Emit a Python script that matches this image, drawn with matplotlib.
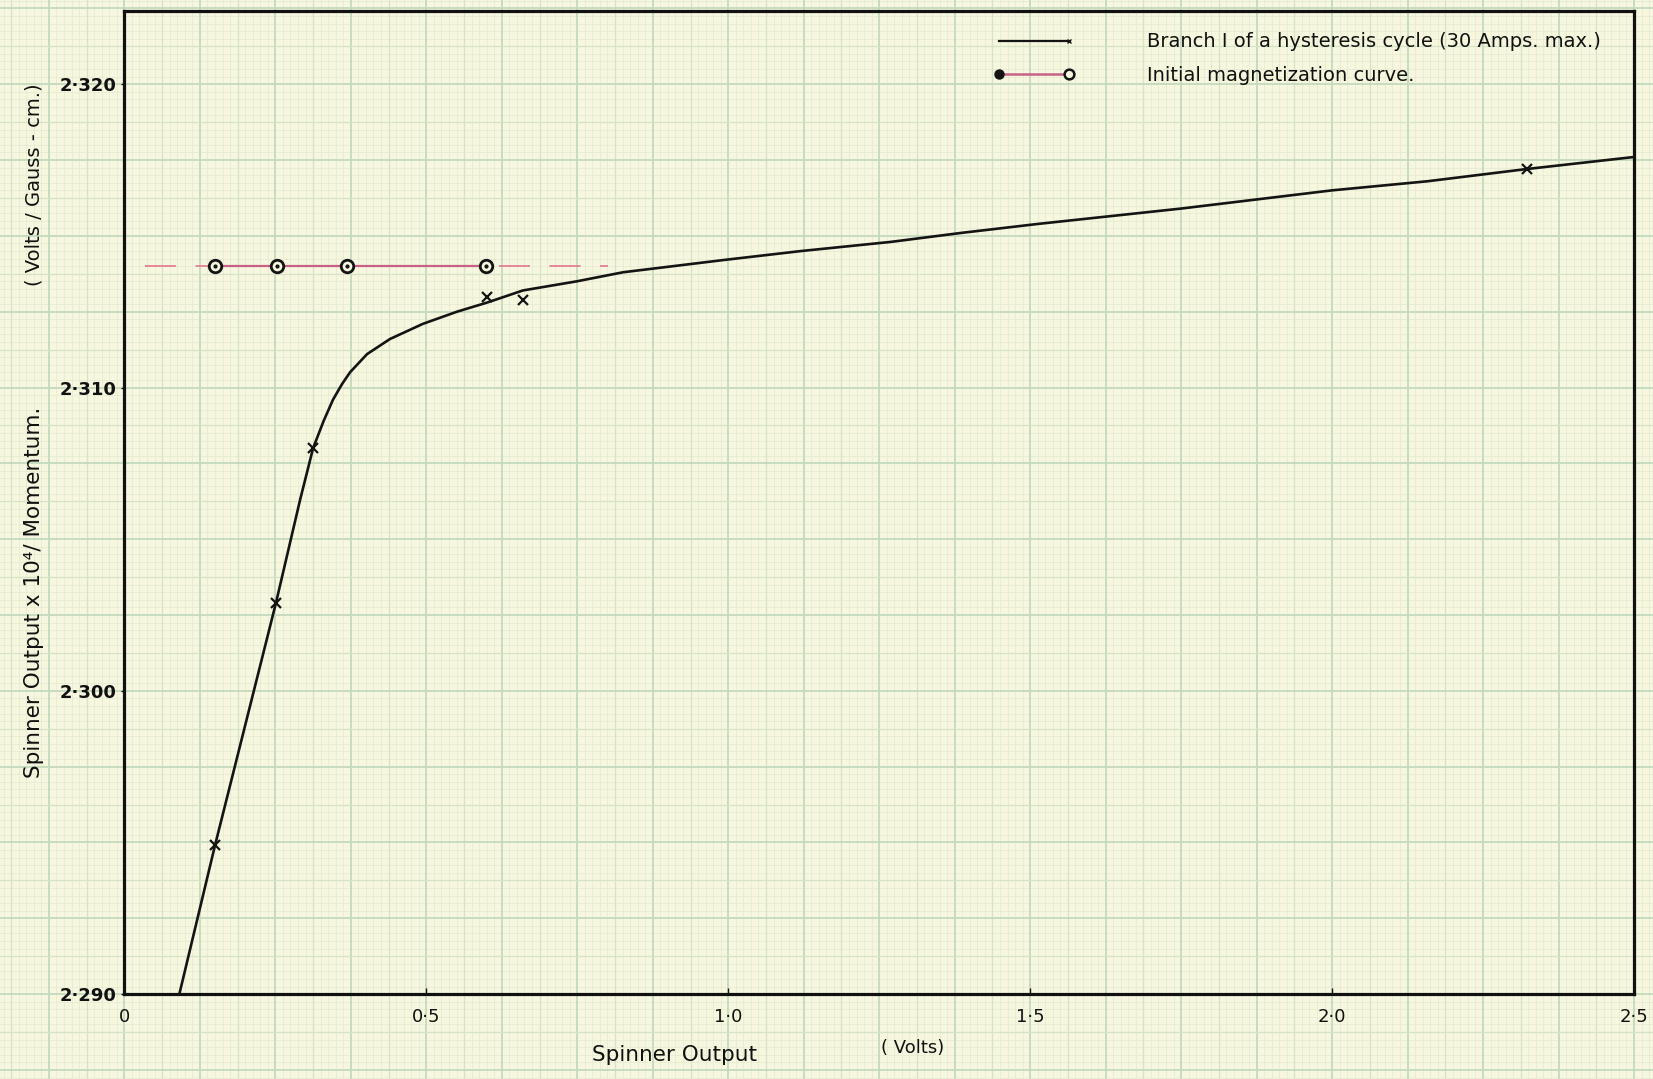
import numpy as np
import matplotlib
matplotlib.use("Agg")
import matplotlib.pyplot as plt
from matplotlib.lines import Line2D
from matplotlib.legend_handler import HandlerBase

plt.rcParams['font.family'] = ['DejaVu Sans']

# ---------------- data ----------------
# Branch I of a hysteresis cycle: drawn curve
curve_x = [0.091, 0.150, 0.251, 0.291, 0.3125, 0.330, 0.3455, 0.3600, 0.3736, 0.4018,
           0.4399, 0.4945, 0.5509, 0.6006, 0.660, 0.749, 0.826, 0.991, 1.121, 1.269,
           1.387, 1.516, 1.750, 2.000, 2.158, 2.321, 2.500]
curve_y = [2.2900, 2.2949, 2.3029, 2.3063, 2.3080, 2.3089, 2.3096, 2.3101, 2.3105, 2.3111,
           2.3116, 2.3121, 2.3125, 2.3128, 2.3132, 2.3135, 2.3138, 2.3142, 2.3145, 2.3148,
           2.3151, 2.3154, 2.3159, 2.3165, 2.3168, 2.3172, 2.3176]
# measured points (crosses)
branch_x = [0.150, 0.251, 0.3125, 0.600, 0.660, 2.322]
branch_y = [2.2949, 2.3029, 2.3080, 2.3130, 2.3129, 2.3172]
# Initial magnetization curve (circles)
init_x = [0.150, 0.252, 0.368, 0.599]
init_y = [2.314, 2.314, 2.314, 2.314]
init_dash_x = [0.034, 0.801]
init_dash_y = [2.314, 2.314]

x_ticks = [0, 0.5, 1.0, 1.5, 2.0, 2.5]
x_ticklabels = ["0", "0·5", "1·0", "1·5", "2·0", "2·5"]
y_ticks = [2.290, 2.300, 2.310, 2.320]
y_ticklabels = ["2·290", "2·300", "2·310", "2·320"]

xlim = (0, 2.5)
ylim = (2.290, 2.32243)

legend_labels = ["Branch I of a hysteresis cycle (30 Amps. max.)",
                 "Initial magnetization curve."]
xlabel_main = "Spinner Output"
xlabel_unit = "( Volts)"
ylabel_main = "Spinner Output x 10⁴/ Momentum."
ylabel_unit = "( Volts / Gauss - cm.)"

# ---------------- style ----------------
W, H = 1653, 1079
paper = "#f6f7de"
pink_solid = "#c9608a"
pink_dash = "#e3879a"
ink = "#141414"

fig = plt.figure(figsize=(W / 100, H / 100), dpi=100, facecolor=paper)

ax_left, ax_right = 124.4 / W, 1634 / W
ax_bottom, ax_top = (H - 994.1) / H, (H - 10.5) / H
ax_w, ax_h = ax_right - ax_left, ax_top - ax_bottom

# graph-paper background continuing the data grid over the whole figure
bg = fig.add_axes([0, 0, 1, 1], zorder=-5)
bg.set_facecolor(paper)
sx = (xlim[1] - xlim[0]) / ax_w
sy = (ylim[1] - ylim[0]) / ax_h
bx0 = xlim[0] - ax_left * sx
bx1 = bx0 + sx
by0 = ylim[0] - ax_bottom * sy
by1 = by0 + sy
bg.set_xlim(bx0, bx1)
bg.set_ylim(by0, by1)
bg.axis("off")
dx, dy = 0.0125, 0.00025
kx = np.arange(int(np.floor(bx0 / dx)) - 1, int(np.ceil(bx1 / dx)) + 2)
ky = np.arange(int(np.floor((by0 - ylim[0]) / dy)) - 1, int(np.ceil((by1 - ylim[0]) / dy)) + 2)


def grid_style(k):
    if k % 10 == 0:
        return "#c3dabd", 1.3, 2
    if k % 10 == 5:
        return "#d6e3c6", 0.9, 2
    return "#e6ead0", 0.55, 1


for k in kx:
    c, lw, z = grid_style(k)
    bg.axvline(k * dx, color=c, lw=lw, zorder=z)
for k in ky:
    c, lw, z = grid_style(k)
    bg.axhline(ylim[0] + k * dy, color=c, lw=lw, zorder=z)

# ---------------- main axes ----------------
ax = fig.add_axes([ax_left, ax_bottom, ax_w, ax_h])
ax.set_facecolor("none")
ax.set_xlim(*xlim)
ax.set_ylim(*ylim)

ax.plot(curve_x, curve_y, color=ink, lw=1.9, solid_capstyle="round",
        solid_joinstyle="round", zorder=3)
ax.plot(branch_x, branch_y, ls="none", marker="x", ms=7, mew=1.6, color=ink, zorder=4)

ax.plot(init_dash_x, init_dash_y, color=pink_dash, lw=1.4, dashes=(16, 10), zorder=2)
ax.plot([init_x[0], init_x[-1]], [init_y[0], init_y[-1]], color=pink_solid, lw=1.6, zorder=3)
ax.plot(init_x, init_y, ls="none", marker="o", ms=9, mfc=paper, mec=ink, mew=2.0, zorder=4)
ax.plot(init_x, init_y, ls="none", marker="o", ms=2, color=ink, zorder=5)

for s in ax.spines.values():
    s.set_linewidth(2.3)
    s.set_color("#111111")

ax.set_xticks(x_ticks)
ax.set_xticklabels(x_ticklabels, fontsize=13)
ax.set_yticks(y_ticks)
ax.set_yticklabels(y_ticklabels, fontsize=13, fontweight="bold")
ax.tick_params(axis="x", direction="in", length=4, width=1, pad=10, colors="#111111")
ax.tick_params(axis="y", direction="out", length=2, width=1, pad=4, colors="#111111")

fig.text(675 / W, 1 - 1055 / H, xlabel_main, ha="center", va="center", fontsize=15.5, color="#111111")
fig.text(913 / W, 1 - 1048 / H, xlabel_unit, ha="center", va="center", fontsize=13, color="#111111")
fig.text(34 / W, 1 - 592 / H, ylabel_main, ha="center", va="center", rotation=90,
         fontsize=15.5, color="#111111")
fig.text(34 / W, 1 - 185 / H, ylabel_unit, ha="center", va="center", rotation=90,
         fontsize=14, color="#111111")


# ---------------- legend ----------------
class HandlerBranch(HandlerBase):
    def create_artists(self, legend, orig_handle, xdescent, ydescent, width, height, fontsize, trans):
        y = height / 2 - ydescent
        line = Line2D([-xdescent, width - xdescent], [y, y], color=ink, lw=1.6)
        mk = Line2D([width - xdescent], [y], marker="x", ms=3, mew=1, color=ink)
        for a in (line, mk):
            a.set_transform(trans)
        return [line, mk]


class HandlerInit(HandlerBase):
    def create_artists(self, legend, orig_handle, xdescent, ydescent, width, height, fontsize, trans):
        y = height / 2 - ydescent
        line = Line2D([-xdescent, width - xdescent], [y, y], color=pink_solid, lw=1.8)
        left = Line2D([-xdescent], [y], marker="o", ms=6.5, color=ink)
        right = Line2D([width - xdescent], [y], marker="o", ms=7, mfc=paper, mec=ink, mew=1.8)
        for a in (line, left, right):
            a.set_transform(trans)
        return [line, left, right]


h1 = Line2D([], [], color=ink)
h2 = Line2D([], [], color=pink_solid)
leg = ax.legend([h1, h2], legend_labels, handler_map={h1: HandlerBranch(), h2: HandlerInit()},
                loc="upper left", bbox_to_anchor=((999 - 124.4) / (1634 - 124.4), 1 - 22 / 984),
                frameon=False, fontsize=14, handlelength=3.6, handletextpad=4.0,
                labelspacing=0.75, borderaxespad=0, borderpad=0)
for t in leg.get_texts():
    t.set_color("#111111")

fig.savefig("out.png", dpi=100, facecolor=paper)
